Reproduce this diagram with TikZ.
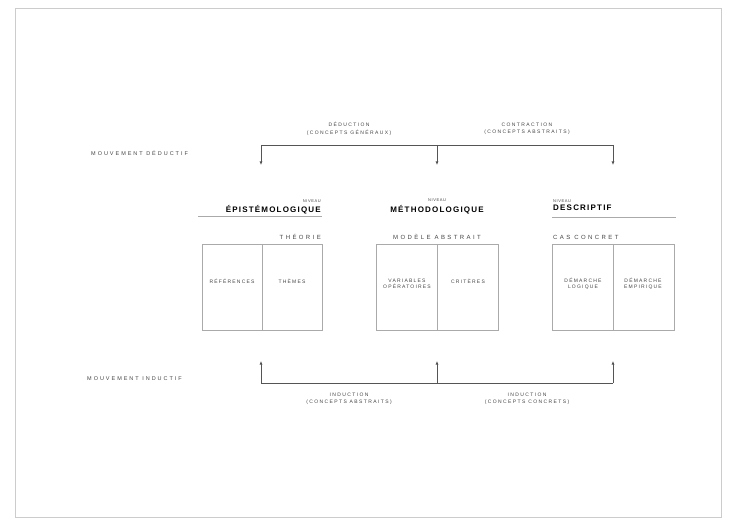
\documentclass[tikz,border=0pt]{standalone}
\usepackage{fontspec}
\setmainfont{Liberation Sans}
\usetikzlibrary{arrows.meta}
\definecolor{txt}{HTML}{444444}
\definecolor{ln}{HTML}{555555}
\definecolor{bx}{HTML}{AAAAAA}
\tikzset{
  side/.style={font=\fontsize{5.5}{6.5}\selectfont\addfontfeatures{LetterSpace=36}, text=txt, inner sep=0pt},
  lbl/.style={font=\fontsize{5}{7.5}\selectfont\addfontfeatures{LetterSpace=28}, text=txt, inner sep=0pt, align=center},
  small/.style={font=\fontsize{4}{5}\selectfont\addfontfeatures{LetterSpace=15}, text=txt, inner sep=0pt},
  head/.style={font=\fontsize{8}{9}\selectfont\bfseries\addfontfeatures{LetterSpace=15}, text=black, inner sep=0pt},
  sub/.style={font=\fontsize{6}{7}\selectfont\addfontfeatures{LetterSpace=40}, text=txt, inner sep=0pt},
  cell/.style={font=\fontsize{5}{6.5}\selectfont\addfontfeatures{LetterSpace=24}, text=txt, inner sep=0pt, align=center},
  conn/.style={draw=ln, line width=0.9pt},
  arr/.style={conn, -{Latex[length=3.5pt,width=3pt]}},
  boxline/.style={draw=bx, line width=0.6pt},
}
\begin{document}
\begin{tikzpicture}[x=1pt,y=-1pt]
\useasboundingbox (0,0) rectangle (732,524);
\draw[draw=bx!60, line width=0.6pt] (15,8) rectangle (721,517);

% side labels
\node[side, anchor=west] (mdown) at (91,153) {MOUVEMENT DÉDUCTIF};
\node[side, anchor=west] (mup) at (87,379) {MOUVEMENT INDUCTIF};

% top bracket
\coordinate (tl) at (261,145);
\coordinate (tm) at (437,145);
\coordinate (tr) at (613,145);
\coordinate (tld) at (261,165);
\coordinate (tmd) at (437,165);
\coordinate (trd) at (613,165);
\draw[conn] (tl) -- (tr);
\draw[arr] (tl) -- (tld);
\draw[arr] (tm) -- (tmd);
\draw[arr] (tr) -- (trd);
\node[lbl] (d1) at (349,129) {DÉDUCTION\\(CONCEPTS GÉNÉRAUX)};
\node[lbl] (d2) at (527,129) {CONTRACTION\\(CONCEPTS ABSTRAITS)};

% column 1
\node[small, anchor=south east] (n1) at (321,203) {NIVEAU};
\node[head, anchor=north east] (h1) at (321,205) {ÉPISTÉMOLOGIQUE};
\coordinate (u1a) at (198,216);
\coordinate (u1b) at (322,216);
\draw[draw=bx, line width=0.6pt] (u1a) -- (u1b);
\node[sub, anchor=east] (s1) at (321,237) {THÉORIE};
\node[boxline, minimum width=120pt, minimum height=86pt, anchor=north west] (b1) at (202,244) {};
\draw[boxline] (b1.north) -- (b1.south);
\node[cell] (c1a) at (232,281) {RÉFÉRENCES};
\node[cell] (c1b) at (292,281) {THÈMES};

% column 2
\node[small] (n2) at (437,200) {NIVEAU};
\node[head] (h2) at (437,210) {MÉTHODOLOGIQUE};
\node[sub] (s2) at (437,237) {MODÈLE ABSTRAIT};
\node[boxline, minimum width=122pt, minimum height=86pt, anchor=north west] (b2) at (376,244) {};
\draw[boxline] (b2.north) -- (b2.south);
\node[cell] (c2a) at (407,284) {VARIABLES\\OPÉRATOIRES};
\node[cell] (c2b) at (468,281) {CRITÈRES};

% column 3
\node[small, anchor=south west] (n3) at (553,203) {NIVEAU};
\node[head, anchor=north west] (h3) at (553,205) {DESCRIPTIF};
\coordinate (u3a) at (552,217);
\coordinate (u3b) at (676,217);
\draw[draw=bx, line width=0.6pt] (u3a) -- (u3b);
\node[sub, anchor=west] (s3) at (553,237) {CAS CONCRET};
\node[boxline, minimum width=122pt, minimum height=86pt, anchor=north west] (b3) at (552,244) {};
\draw[boxline] (b3.north) -- (b3.south);
\node[cell] (c3a) at (583,284) {DÉMARCHE\\LOGIQUE};
\node[cell] (c3b) at (643,284) {DÉMARCHE\\EMPIRIQUE};

% bottom bracket
\coordinate (bl) at (261,383);
\coordinate (bm) at (437,383);
\coordinate (br) at (613,383);
\coordinate (blu) at (261,361);
\coordinate (bmu) at (437,361);
\coordinate (bru) at (613,361);
\draw[conn] (bl) -- (br);
\draw[arr] (bl) -- (blu);
\draw[arr] (bm) -- (bmu);
\draw[arr] (br) -- (bru);
\node[lbl] (i1) at (349,399) {INDUCTION\\(CONCEPTS ABSTRAITS)};
\node[lbl] (i2) at (527,399) {INDUCTION\\(CONCEPTS CONCRETS)};
\end{tikzpicture}
\end{document}
